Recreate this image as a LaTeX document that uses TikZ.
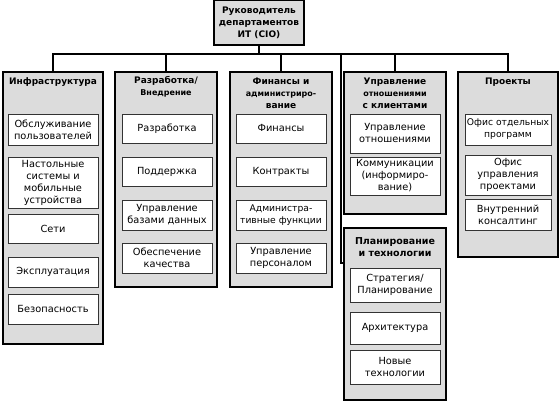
\documentclass[tikz,border=0pt]{standalone}
\usepackage{fontspec}
\setmainfont{DejaVu Sans}
\definecolor{colgray}{HTML}{DCDCDC}
\tikzset{
  colbox/.style={draw=black, line width=1.1pt, fill=colgray, inner sep=0pt, rectangle},
  leaf/.style={draw=black!80, line width=0.7pt, fill=white, inner sep=0pt, align=center,
    font=\fontsize{9.8}{12}\selectfont},
  small/.style={font=\fontsize{9.2}{12}\selectfont},
  lw1/.style={minimum width=90pt},
  lw5/.style={minimum width=86pt},
  ttl/.style={inner sep=0pt, align=center, font=\bfseries\fontsize{9}{12}\selectfont},
  wire/.style={line width=1.1pt, draw=black}
}
\begin{document}
\begin{tikzpicture}[x=1pt,y=-1pt]
\path[use as bounding box, fill=white] (0,0) rectangle (560,403);

% top box
\node[colbox, minimum width=90pt, minimum height=45pt, align=center,
  font=\bfseries\fontsize{9}{12}\selectfont] (cio) at (259,22.5) {Руководитель\\департаментов\\ИТ (CIO)};

% columns
\node[colbox, minimum width=100pt, minimum height=272pt] (c1) at (53,208) {};
\node[colbox, minimum width=102pt, minimum height=215pt] (c2) at (166,179.5) {};
\node[colbox, minimum width=102pt, minimum height=215pt] (c3) at (281,179.5) {};
\node[colbox, minimum width=102pt, minimum height=142pt] (c4) at (395,143) {};
\node[colbox, minimum width=102pt, minimum height=172pt] (c4b) at (395,314) {};
\node[colbox, minimum width=100pt, minimum height=185pt] (c5) at (508,164.5) {};

% connectors
\coordinate (bR) at (508,54);
\coordinate (b4) at (341,54);
\coordinate (k4) at (341,263);
\draw[wire] (c1.north) |- (bR) -- (c5.north);
\draw[wire] (cio.south) -- (cio.south |- bR);
\draw[wire] (c2.north) -- (c2.north |- bR);
\draw[wire] (c3.north) -- (c3.north |- bR);
\draw[wire] (c4.north) -- (c4.north |- bR);
\draw[wire] (b4) -- (k4) -- (k4 -| c4b.west);

% titles
\node[ttl] (t1) at (53,82) {Инфраструктура};
\node[ttl] (t2) at (166,87) {Разработка/\\\fontsize{8}{12}\selectfont Внедрение};
\node[ttl] (t3) at (281,93.5) {Финансы и\\\fontsize{8}{12}\selectfont администриро-\\вание};
\node[ttl] (t4) at (395,93) {Управление\\\fontsize{8}{12}\selectfont отношениями\\с клиентами};
\node[ttl, font=\bfseries\fontsize{9.5}{12}\selectfont] (t4b) at (395,247) {Планирование\\и технологии};
\node[ttl] (t5) at (508,82) {Проекты};

% column 1
\node[leaf, lw1, minimum height=31pt] (l11) at (53,129.5) {Обслуживание\\пользователей};
\node[leaf, lw1, minimum height=51pt] (l12) at (53,182.5) {Настольные\\системы и\\мобильные\\устройства};
\node[leaf, lw1, minimum height=29pt] (l13) at (53,228.5) {Сети};
\node[leaf, lw1, minimum height=30pt] (l14) at (53,272) {Эксплуатация};
\node[leaf, lw1, minimum height=30pt] (l15) at (53,309) {Безопасность};

% column 2
\node[leaf, lw1, minimum height=29pt] (l21) at (167,128.5) {Разработка};
\node[leaf, lw1, minimum height=29pt] (l22) at (167,171.5) {Поддержка};
\node[leaf, lw1, minimum height=30pt] (l23) at (167,215) {Управление\\базами данных};
\node[leaf, lw1, minimum height=30pt] (l24) at (167,258) {Обеспечение\\качества};

% column 3
\node[leaf, lw1, minimum height=29pt] (l31) at (281,128.5) {Финансы};
\node[leaf, lw1, minimum height=29pt] (l32) at (281,171.5) {Контракты};
\node[leaf, lw1, small, minimum height=30pt] (l33) at (281,215) {Администра-\\тивные функции};
\node[leaf, lw1, minimum height=30pt] (l34) at (281,258) {Управление\\персоналом};

% column 4
\node[leaf, lw1, minimum height=39pt] (l41) at (395,133.5) {Управление\\отношениями};
\node[leaf, lw1, minimum height=38pt] (l42) at (395,176) {Коммуникации\\(информиро-\\вание)};
\node[leaf, lw1, minimum height=34pt] (l43) at (395,285) {Стратегия/\\Планирование};
\node[leaf, lw1, minimum height=32pt] (l44) at (395,328) {Архитектура};
\node[leaf, lw1, minimum height=34pt] (l45) at (395,367) {Новые\\технологии};

% column 5
\node[leaf, lw5, small, minimum height=31pt] (l51) at (508,129.5) {Офис отдельных\\программ};
\node[leaf, lw5, minimum height=40pt] (l52) at (508,175) {Офис\\управления\\проектами};
\node[leaf, lw5, minimum height=31pt] (l53) at (508,214.5) {Внутренний\\консалтинг};
\end{tikzpicture}
\end{document}
